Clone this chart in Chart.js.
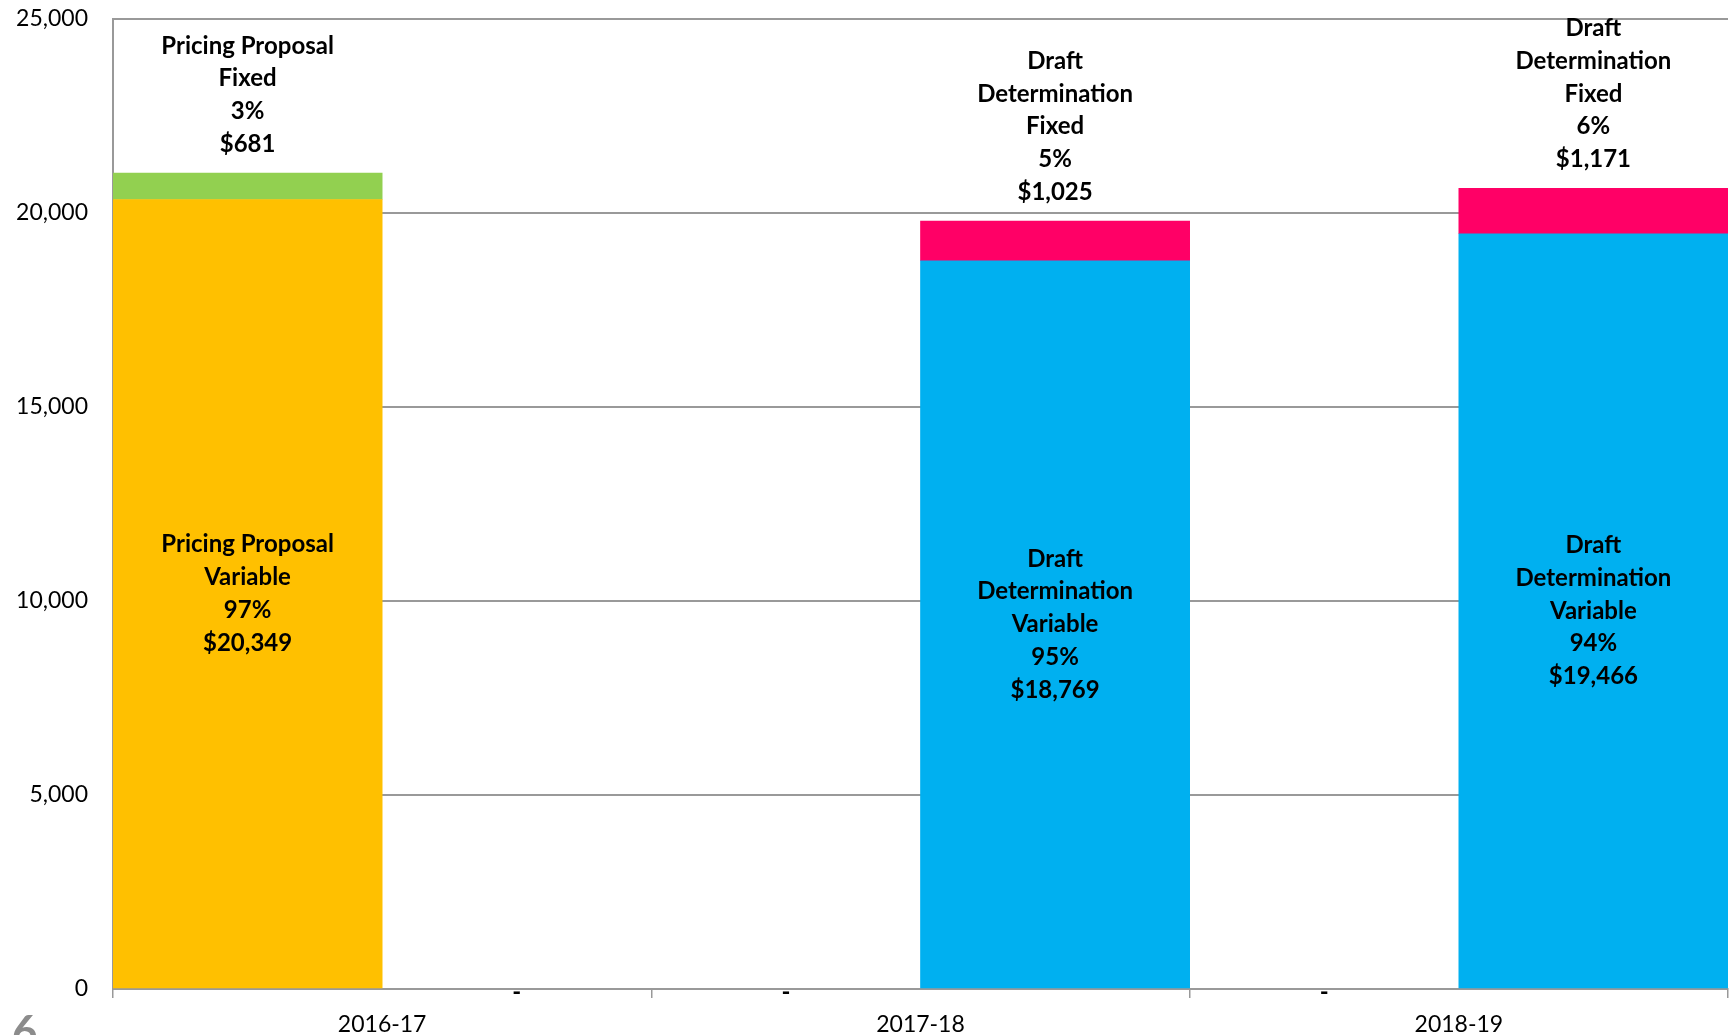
<!DOCTYPE html>
<html>
<head>
<meta charset="utf-8">
<script src="https://cdn.jsdelivr.net/npm/chart.js@4"></script>
<style>
  body { margin: 0; background: #fff; }
  canvas { display: block; }
</style>
</head>
<body>
<canvas id="cost-chart" width="1729" height="1035"></canvas>
<script>
// DATA
var years = ["2016-17", "2017-18", "2018-19"];
var ppVariable = [20349, 0, 0];
var ppFixed = [681, 0, 0];
var ddVariable = [0, 18769, 19466];
var ddFixed = [0, 1025, 1171];
var yTicks = [0, 5000, 10000, 15000, 20000, 25000];

var ppVariableName = ["Pricing Proposal", "Variable"];
var ppFixedName = ["Pricing Proposal", "Fixed"];
var ddVariableName = ["Draft", "Determination", "Variable"];
var ddFixedName = ["Draft", "Determination", "Fixed"];

function fmt(v) {
  return v.toLocaleString("en-US");
}

// zero values are not drawn as bars, they only get a "-" label
function bars(arr) {
  return arr.map(function (v) {
    return v === 0 ? null : v;
  });
}

// labels drawn on the bars, Excel style
var barLabels = {
  id: "barLabels",
  afterDatasetsDraw: function (chart) {
    var ctx = chart.ctx;
    var area = chart.chartArea;
    var lineH = 32.7;
    ctx.save();
    ctx.fillStyle = "#000";
    ctx.textAlign = "center";
    ctx.textBaseline = "middle";
    ctx.font = "bold 24px Lato";
    chart.data.datasets.forEach(function (ds, di) {
      var meta = chart.getDatasetMeta(di);
      var xs = chart.scales.x;
      ds.values.forEach(function (v, i) {
        var el = meta.data[i];
        if (v === 0) {
          if (ds.kind === "variable") {
            // centre of this stack's slot in the category
            var w = xs.getPixelForValue(1) - xs.getPixelForValue(0);
            var cx = xs.getPixelForValue(i) + (ds.stack === "pp" ? -w / 4 : w / 4);
            ctx.fillText("-", cx, area.bottom + 3);
          }
          return;
        }
        var total = ds.partner[i] + v;
        var lines = ds.names.concat([Math.round(v / total * 100) + "%", "$" + fmt(v)]);
        var startY;
        if (ds.kind === "fixed") {
          startY = el.y - 29 - (lines.length - 1) * lineH;
        } else {
          startY = (el.y + el.base) / 2 - (lines.length - 1) * lineH / 2;
        }
        lines.forEach(function (t, k) {
          ctx.fillText(t, el.x, startY + k * lineH);
        });
      });
    });
    // page number bleeding in at the bottom-left corner
    ctx.textAlign = "left";
    ctx.textBaseline = "alphabetic";
    ctx.fillStyle = "#8c8c8c";
    ctx.font = "bold 44px Lato";
    ctx.fillText("6", 12, 1047);
    ctx.restore();
  },
};

var ctx = document.getElementById("cost-chart").getContext("2d");
var chart = new Chart(ctx, {
  type: "bar",
  data: {
    labels: years,
    datasets: [
      {
        label: "Pricing Proposal Variable",
        data: bars(ppVariable),
        values: ppVariable,
        backgroundColor: "#FFC000",
        stack: "pp",
        kind: "variable",
        names: ppVariableName,
        partner: ppFixed,
      },
      {
        label: "Pricing Proposal Fixed",
        data: bars(ppFixed),
        values: ppFixed,
        backgroundColor: "#92D050",
        stack: "pp",
        kind: "fixed",
        names: ppFixedName,
        partner: ppVariable,
      },
      {
        label: "Draft Determination Variable",
        data: bars(ddVariable),
        values: ddVariable,
        backgroundColor: "#00B0F0",
        stack: "dd",
        kind: "variable",
        names: ddVariableName,
        partner: ddFixed,
      },
      {
        label: "Draft Determination Fixed",
        data: bars(ddFixed),
        values: ddFixed,
        backgroundColor: "#FF0066",
        stack: "dd",
        kind: "fixed",
        names: ddFixedName,
        partner: ddVariable,
      },
    ],
  },
  options: {
    responsive: false,
    animation: false,
    barPercentage: 1,
    categoryPercentage: 1,
    layout: {
      padding: { top: 19, right: 1, left: 0, bottom: 0 },
    },
    plugins: {
      legend: { display: false },
      tooltip: { enabled: false },
    },
    scales: {
      x: {
        stacked: true,
        afterFit: function (scale) {
          scale.height = 46;
        },
        grid: {
          offset: true,
          drawOnChartArea: false,
          drawTicks: true,
          tickLength: 9,
          color: "#999",
          lineWidth: 1.5,
        },
        border: { color: "#999", width: 2 },
        ticks: {
          color: "#000",
          font: { family: "Lato", size: 23 },
          padding: 13,
        },
      },
      y: {
        stacked: true,
        min: 0,
        max: 25000,
        afterFit: function (scale) {
          scale.width = 113;
          // tick padding would otherwise push the plot top down
          scale.paddingTop = 0;
          scale.paddingBottom = 0;
        },
        afterBuildTicks: function (scale) {
          scale.ticks = yTicks.map(function (v) {
            return { value: v };
          });
        },
        grid: {
          color: "#999",
          lineWidth: 2,
          drawTicks: false,
        },
        border: { color: "#999", width: 2 },
        ticks: {
          color: "#000",
          font: { family: "Lato", size: 23 },
          padding: 25,
          callback: function (v) {
            return fmt(v);
          },
        },
      },
    },
  },
  plugins: [barLabels],
});
</script>
</body>
</html>
